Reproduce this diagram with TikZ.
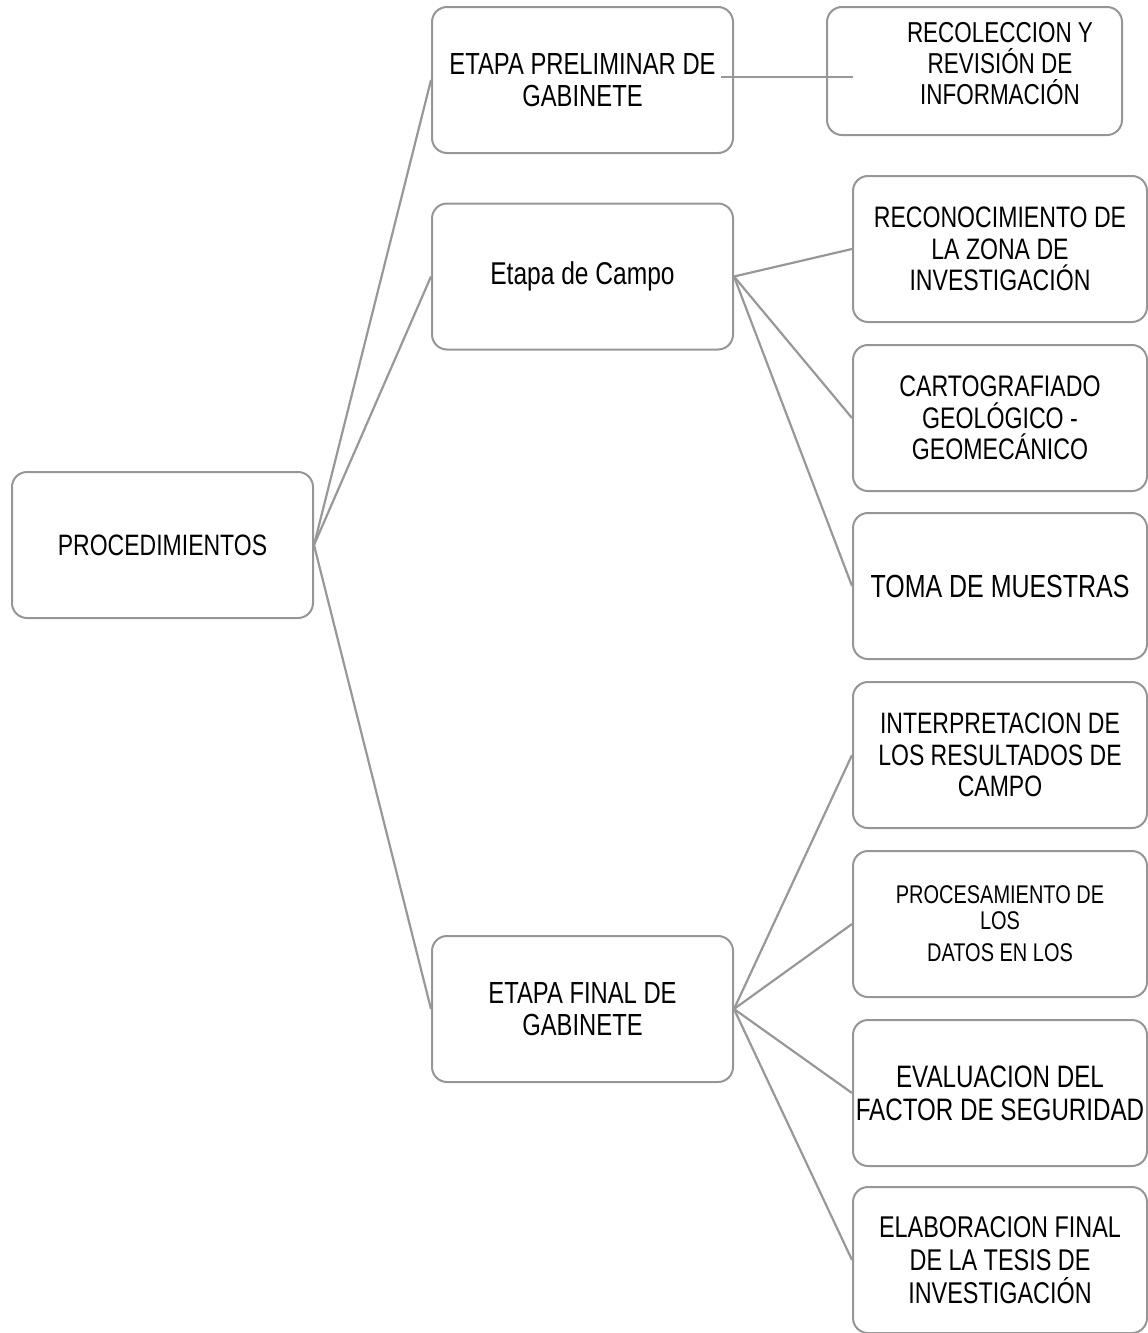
\documentclass[tikz,border=0pt]{standalone}
\usepackage{fontspec}
\setmainfont{Liberation Sans}[FakeStretch=0.78]
\definecolor{edgegray}{RGB}{150,150,150}
\definecolor{linegray}{RGB}{152,152,152}
\tikzset{
  box/.style={draw=edgegray, line width=2pt, rounded corners=15pt, inner sep=0pt, align=center, text=black},
  stagebox/.style={box, minimum width=301pt, minimum height=146pt},
  leafbox/.style={box, minimum width=294pt, minimum height=146pt},
  conn/.style={draw=linegray, line width=2.2pt},
  fs/.style 2 args={font=\fontsize{#1}{#2}\selectfont}
}
\begin{document}
\begin{tikzpicture}[x=1pt,y=-1pt]
\path[use as bounding box] (0,0) rectangle (1148,1333);

% root
\node[stagebox, fs={29.5}{32}] (proc) at (162.5,545) {PROCEDIMIENTOS};

% stages
\node[stagebox, fs={30.5}{32}] (prelim) at (582.5,80) {ETAPA PRELIMINAR DE\\GABINETE};
\node[stagebox, fs={31.5}{32}] (campo) at (582.5,276.5) {Etapa de Campo};
\node[stagebox, fs={30.5}{32}] (final) at (582.5,1009) {ETAPA FINAL DE\\GABINETE};

% preliminary child
\node[box, minimum width=295pt, minimum height=128pt] (recol) at (974.5,71) {};
\node[align=center, inner sep=0pt, fs={28.8}{31}] (recoltext) at (1000,64) {RECOLECCION Y\\REVISIÓN DE\\INFORMACIÓN};

% field children
\node[leafbox, fs={29.6}{31.5}] (recon) at (1000,249) {RECONOCIMIENTO DE\\LA ZONA DE\\INVESTIGACIÓN};
\node[leafbox, fs={29.7}{31.5}] (carto) at (1000,418) {CARTOGRAFIADO\\GEOLÓGICO -\\GEOMECÁNICO};
\node[leafbox, fs={32}{32}] (toma) at (1000,586) {TOMA DE MUESTRAS};

% final children
\node[leafbox, fs={29.5}{31.5}] (interp) at (1000,755) {INTERPRETACION DE\\LOS RESULTADOS DE\\CAMPO};
\node[leafbox, fs={25.6}{26}] (proces) at (1000,924) {PROCESAMIENTO DE\\LOS\\[6pt]DATOS EN LOS};
\node[leafbox, fs={31}{33}] (eval) at (1000,1093) {EVALUACION DEL\\FACTOR DE SEGURIDAD};
\node[leafbox, fs={30}{33}] (elab) at (1000,1260) {ELABORACION FINAL\\DE LA TESIS DE\\INVESTIGACIÓN};

% connectors
\draw[conn] (proc.east) -- (prelim.west);
\draw[conn] (proc.east) -- (campo.west);
\draw[conn] (proc.east) -- (final.west);

\coordinate (prelimend) at (721,77);
\coordinate (recolend) at (853,77);
\draw[conn] (prelimend) -- (recolend);

\draw[conn] (campo.east) -- (recon.west);
\draw[conn] (campo.east) -- (carto.west);
\draw[conn] (campo.east) -- (toma.west);

\draw[conn] (final.east) -- (interp.west);
\draw[conn] (final.east) -- (proces.west);
\draw[conn] (final.east) -- (eval.west);
\draw[conn] (final.east) -- (elab.west);
\end{tikzpicture}
\end{document}
